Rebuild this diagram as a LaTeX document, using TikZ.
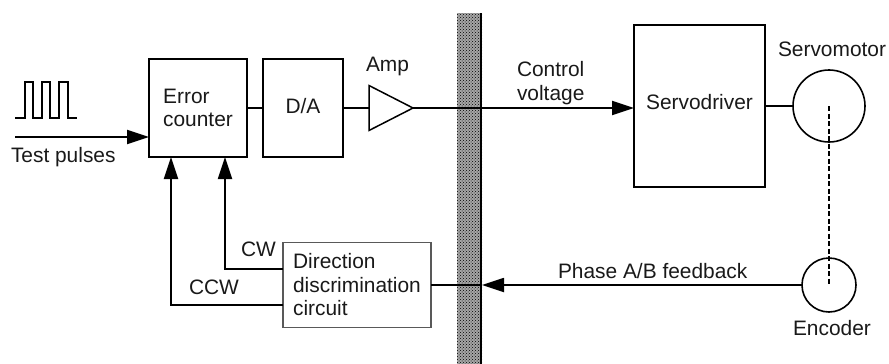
\documentclass[tikz,border=0pt]{standalone}
\usepackage{fontspec}
\setmainfont{Liberation Sans}
\usetikzlibrary{arrows.meta,patterns,shapes.geometric}
\begin{document}
\begin{tikzpicture}[x=1pt,y=-1pt,
  every node/.style={font=\fontsize{20.9}{23.5}\selectfont,outer sep=0pt,inner sep=0pt,text=black!90},
  box/.style={draw=black,line width=1.7pt,align=left},
  thinbox/.style={draw=black!65,line width=1.2pt,align=left},
  wire/.style={draw=black,line width=1.8pt},
  arrowwire/.style={wire,-{Triangle[length=22pt,width=14pt]}},
  lbl/.style={anchor=base west},
  round/.style={circle,draw=black,line width=1.6pt}]
\useasboundingbox (0,0) rectangle (889,364);
\node (bar) [rectangle,minimum width=25pt,minimum height=351pt,preaction={fill=black!35},pattern=crosshatch dots,pattern color=black] at (469.5,188.5) {};
\draw[black,line width=2.2pt] (481,13) -- (481,364);
\node (ec) [box,minimum width=98pt,minimum height=98pt] at (198,108) {Error\\counter};
\node (da) [box,minimum width=80pt,minimum height=98pt] at (303,108) {\raisebox{5pt}{D/A}};
\node (amp) [isosceles triangle,isosceles triangle apex angle=54,isosceles triangle stretches,minimum width=45pt,minimum height=44pt,draw=black,line width=1.5pt,anchor=apex] at (413,108) {};
\node (sd) [box,minimum width=131pt,minimum height=162pt] at (699.5,106) {\raisebox{8pt}{Servodriver}};
\node (dd) [thinbox,minimum width=148pt,minimum height=85pt] at (357,285) {Direction\\discrimination\\circuit};
\node (sm) [round,minimum size=72pt] at (829,106) {};
\node (en) [round,minimum size=54pt] at (829,285) {};
\node (ltp) [lbl] at (11,162) {Test pulses};
\node (lamp) [lbl] at (366,71) {Amp};
\node (lcv) [lbl] at (517,76) {Control};
\node (lcv2) [lbl] at (517,100) {voltage};
\node (lsm) [lbl] at (778,56) {Servomotor};
\node (lpf) [lbl] at (558,278) {Phase A/B feedback};
\node (len) [lbl] at (793,335) {Encoder};
\node (lcw) [lbl] at (241,256) {CW};
\node (lccw) [lbl] at (189,294) {CCW};
\coordinate (tp) at (15,137);
\coordinate (cwy) at (225,269);
\coordinate (ccwy) at (171,305);
\draw[black,line width=1.5pt] (15,118) -- (25,118) -- (25,82) -- (33,82) -- (33,118) -- (42,118) -- (42,82) -- (50,82) -- (50,118) -- (59,118) -- (59,82) -- (68,82) -- (68,118) -- (77,118);
\draw[arrowwire] (tp) -- (tp -| ec.west);
\draw[wire] (ec.east) -- (da.west);
\draw[wire] (da.east) -- (amp.lower side);
\draw[arrowwire] (amp.apex) -- (amp.apex -| sd.west);
\draw[wire] (sd.east |- sm.west) -- (sm.west);
\draw[arrowwire] (dd.west |- cwy) -- (cwy) -- (cwy |- ec.south);
\draw[arrowwire] (dd.west |- ccwy) -- (ccwy) -- (ccwy |- ec.south);
\draw[wire] (dd.east) -- (dd.east -| bar.east);
\draw[arrowwire] (en.west) -- (en.west -| bar.east);
\draw[black,line width=1.4pt,dash pattern=on 5pt off 2.5pt] (sm.center) -- (en.center);
\end{tikzpicture}
\end{document}
